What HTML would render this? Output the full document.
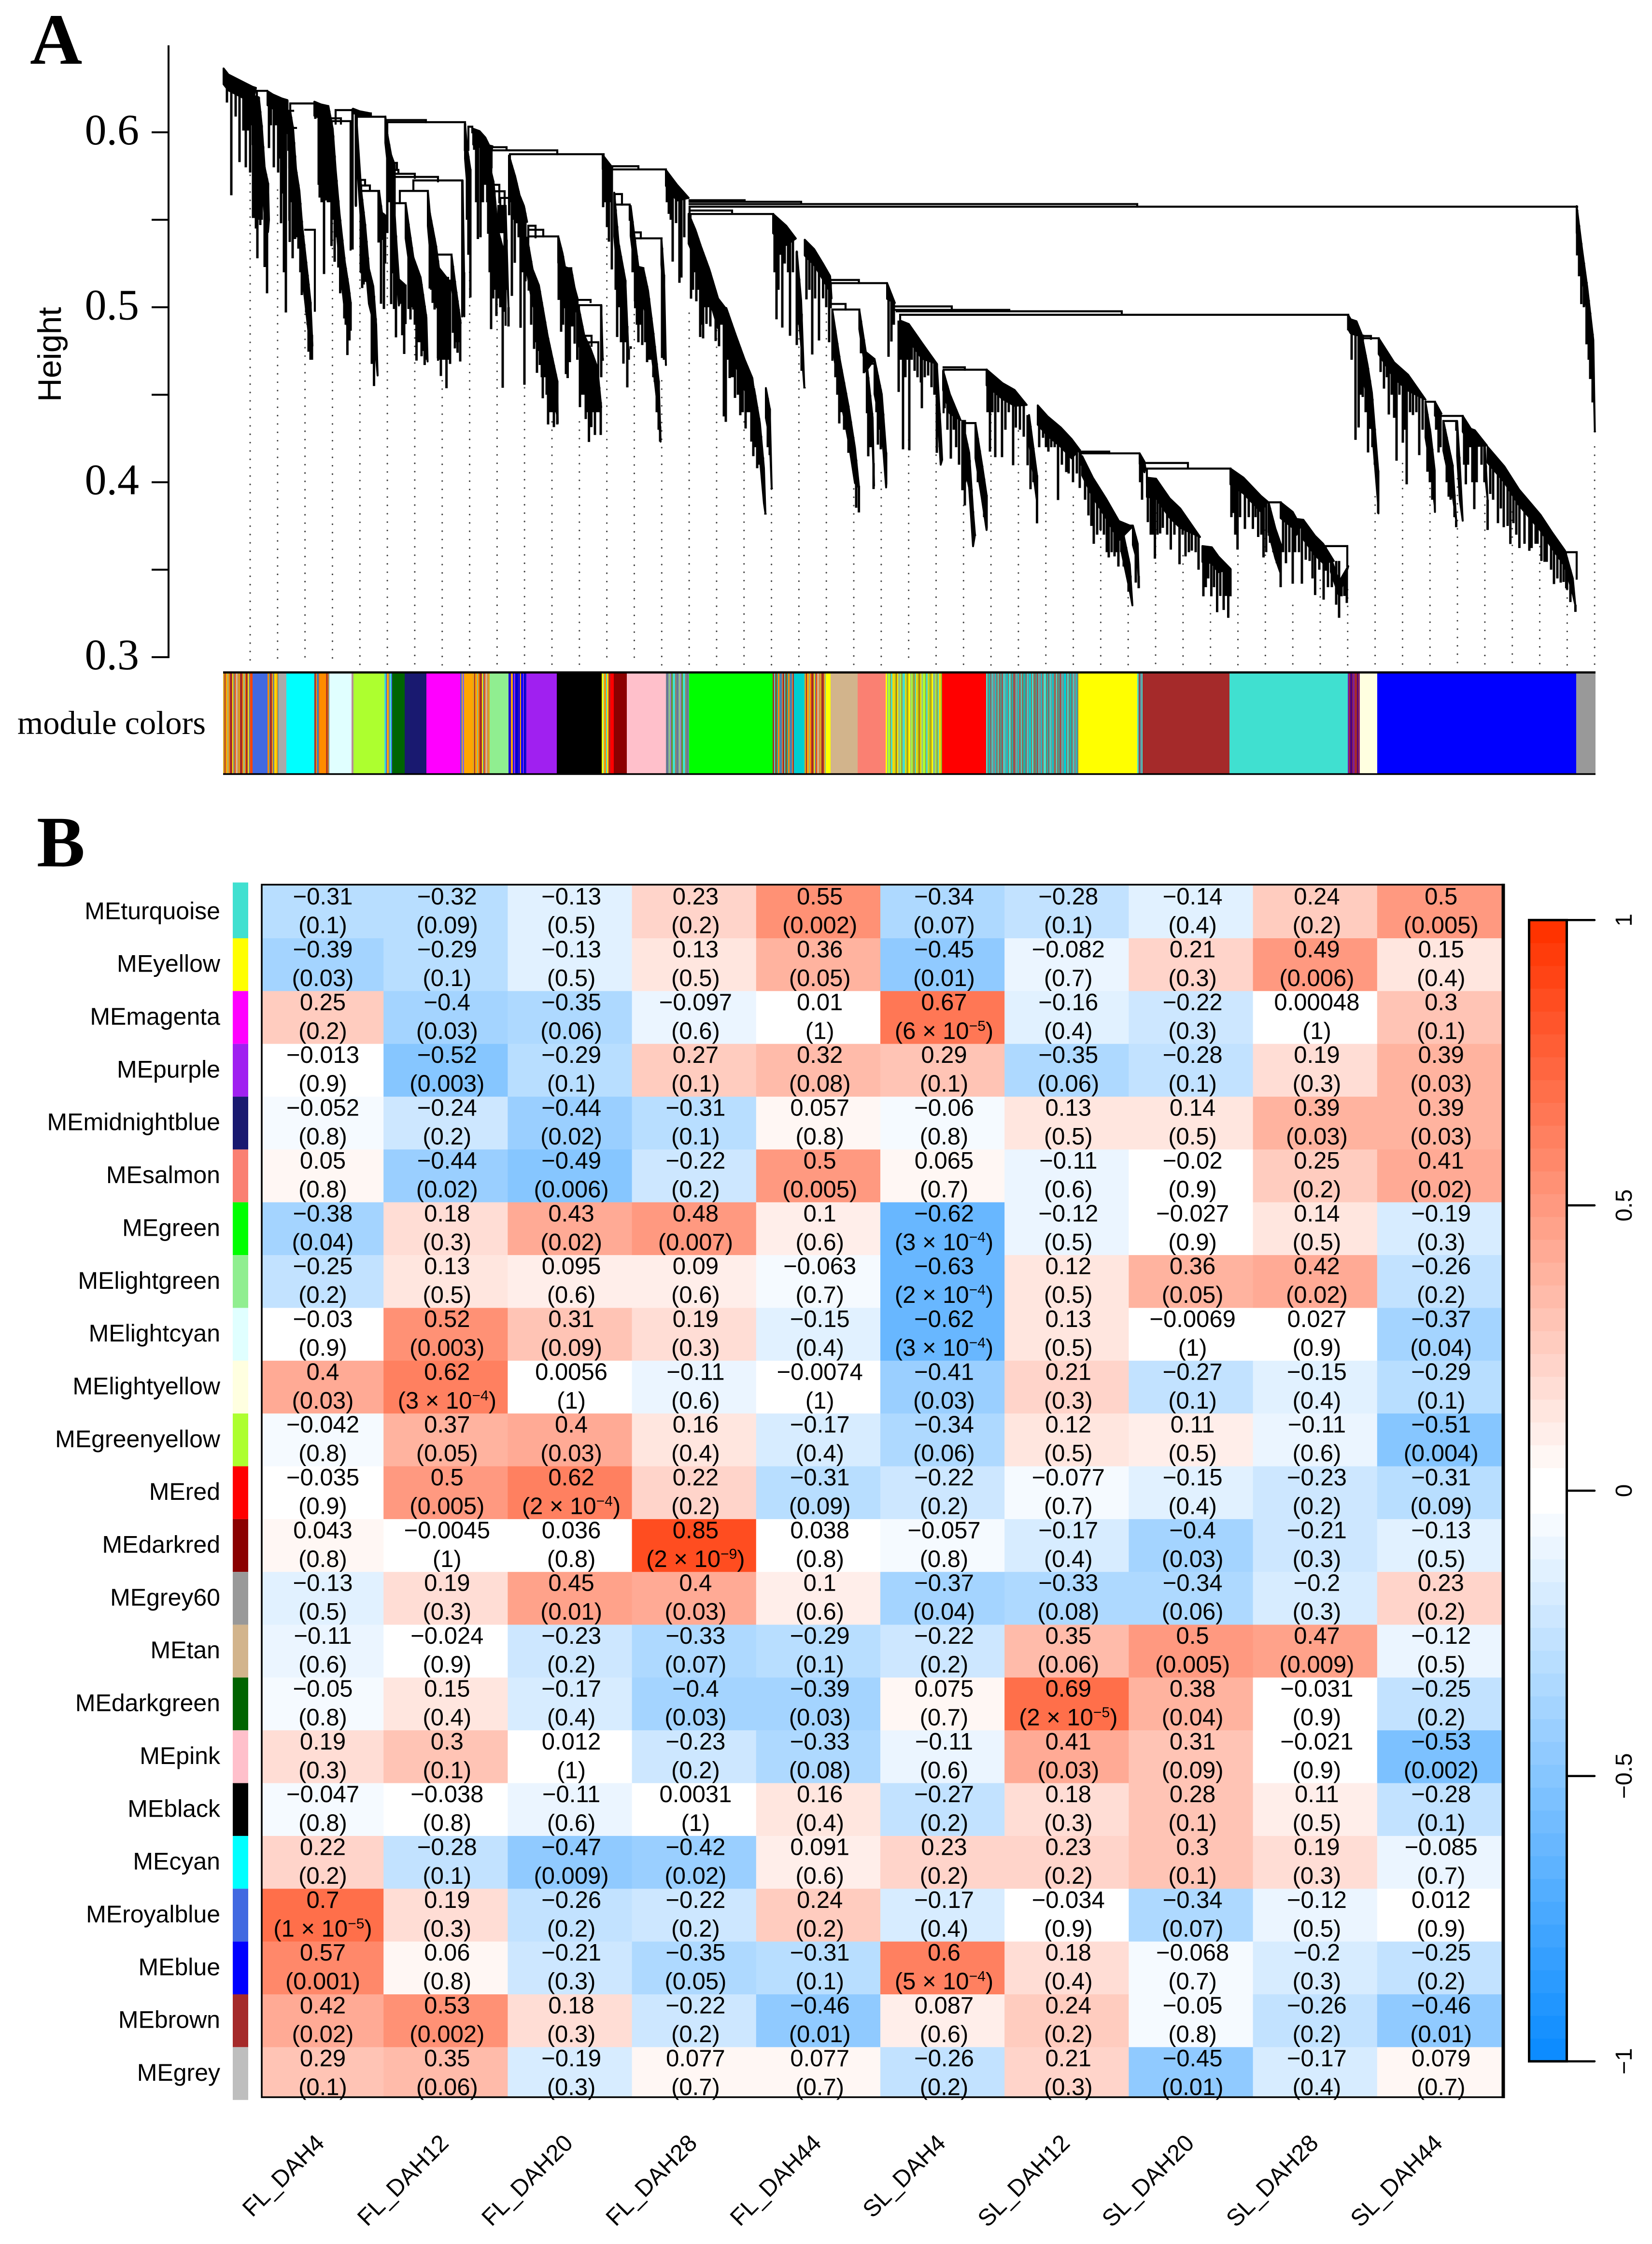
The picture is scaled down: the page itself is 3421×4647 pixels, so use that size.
<!DOCTYPE html>
<html lang="en">
<head>
<meta charset="utf-8">
<title>Module dendrogram and module-trait heatmap</title>
<style>
html,body{margin:0;padding:0;background:#fff;}
svg{display:block;}
text{fill:#000;}
.sans{font-family:"Liberation Sans",sans-serif;}
.serif{font-family:"Liberation Serif",serif;}
</style>
</head>
<body>
<svg id="figure" xmlns="http://www.w3.org/2000/svg" width="3421" height="4647" viewBox="0 0 3421 4647">
<rect x="0" y="0" width="3421" height="4647" fill="#fff"/>
<text class="serif" x="62" y="132" font-size="150" font-weight="bold">A</text>
<text class="serif" x="76" y="1794" font-size="150" font-weight="bold">B</text>
<text class="sans" x="0" y="0" font-size="68" text-anchor="middle" transform="translate(126 734) rotate(-90)">Height</text>
<text class="serif" x="36" y="1520" font-size="68.5">module colors</text>
<g id="layer-guides"></g>
<g id="layer-dendro"></g>
<g id="layer-yaxis"></g>
<g id="layer-strip"></g>
<g id="layer-rowstrip"></g>
<g id="layer-rowlabels"></g>
<g id="layer-cells"></g>
<g id="layer-frame"></g>
<g id="layer-celltext"></g>
<g id="layer-collabels"></g>
<g id="layer-legend"></g>
</svg>
<script>
/* ---------- Panel B data ---------- */
const rowNames = ['MEturquoise','MEyellow','MEmagenta','MEpurple','MEmidnightblue','MEsalmon','MEgreen','MElightgreen','MElightcyan','MElightyellow','MEgreenyellow','MEred','MEdarkred','MEgrey60','MEtan','MEdarkgreen','MEpink','MEblack','MEcyan','MEroyalblue','MEblue','MEbrown','MEgrey'];
const rowColors = ['#40E0D0','#FFFF00','#FF00FF','#A020F0','#191970','#FA8072','#00FF00','#90EE90','#E0FFFF','#FFFFE0','#ADFF2F','#FF0000','#8B0000','#999999','#D2B48C','#006400','#FFC0CB','#000000','#00FFFF','#4169E1','#0000FF','#A52A2A','#BEBEBE'];
const colNames = ['FL_DAH4','FL_DAH12','FL_DAH20','FL_DAH28','FL_DAH44','SL_DAH4','SL_DAH12','SL_DAH20','SL_DAH28','SL_DAH44'];
const correlations = [
[-0.31,-0.32,-0.13,0.23,0.55,-0.34,-0.28,-0.14,0.24,0.5],
[-0.39,-0.29,-0.13,0.13,0.36,-0.45,-0.082,0.21,0.49,0.15],
[0.25,-0.4,-0.35,-0.097,0.01,0.67,-0.16,-0.22,0.00048,0.3],
[-0.013,-0.52,-0.29,0.27,0.32,0.29,-0.35,-0.28,0.19,0.39],
[-0.052,-0.24,-0.44,-0.31,0.057,-0.06,0.13,0.14,0.39,0.39],
[0.05,-0.44,-0.49,-0.22,0.5,0.065,-0.11,-0.02,0.25,0.41],
[-0.38,0.18,0.43,0.48,0.1,-0.62,-0.12,-0.027,0.14,-0.19],
[-0.25,0.13,0.095,0.09,-0.063,-0.63,0.12,0.36,0.42,-0.26],
[-0.03,0.52,0.31,0.19,-0.15,-0.62,0.13,-0.0069,0.027,-0.37],
[0.4,0.62,0.0056,-0.11,-0.0074,-0.41,0.21,-0.27,-0.15,-0.29],
[-0.042,0.37,0.4,0.16,-0.17,-0.34,0.12,0.11,-0.11,-0.51],
[-0.035,0.5,0.62,0.22,-0.31,-0.22,-0.077,-0.15,-0.23,-0.31],
[0.043,-0.0045,0.036,0.85,0.038,-0.057,-0.17,-0.4,-0.21,-0.13],
[-0.13,0.19,0.45,0.4,0.1,-0.37,-0.33,-0.34,-0.2,0.23],
[-0.11,-0.024,-0.23,-0.33,-0.29,-0.22,0.35,0.5,0.47,-0.12],
[-0.05,0.15,-0.17,-0.4,-0.39,0.075,0.69,0.38,-0.031,-0.25],
[0.19,0.3,0.012,-0.23,-0.33,-0.11,0.41,0.31,-0.021,-0.53],
[-0.047,-0.038,-0.11,0.0031,0.16,-0.27,0.18,0.28,0.11,-0.28],
[0.22,-0.28,-0.47,-0.42,0.091,0.23,0.23,0.3,0.19,-0.085],
[0.7,0.19,-0.26,-0.22,0.24,-0.17,-0.034,-0.34,-0.12,0.012],
[0.57,0.06,-0.21,-0.35,-0.31,0.6,0.18,-0.068,-0.2,-0.25],
[0.42,0.53,0.18,-0.22,-0.46,0.087,0.24,-0.05,-0.26,-0.46],
[0.29,0.35,-0.19,0.077,0.077,-0.26,0.21,-0.45,-0.17,0.079]
];
const pValues = [
[0.1,0.09,0.5,0.2,0.002,0.07,0.1,0.4,0.2,0.005],
[0.03,0.1,0.5,0.5,0.05,0.01,0.7,0.3,0.006,0.4],
[0.2,0.03,0.06,0.6,1,6e-5,0.4,0.3,1,0.1],
[0.9,0.003,0.1,0.1,0.08,0.1,0.06,0.1,0.3,0.03],
[0.8,0.2,0.02,0.1,0.8,0.8,0.5,0.5,0.03,0.03],
[0.8,0.02,0.006,0.2,0.005,0.7,0.6,0.9,0.2,0.02],
[0.04,0.3,0.02,0.007,0.6,3e-4,0.5,0.9,0.5,0.3],
[0.2,0.5,0.6,0.6,0.7,2e-4,0.5,0.05,0.02,0.2],
[0.9,0.003,0.09,0.3,0.4,3e-4,0.5,1,0.9,0.04],
[0.03,3e-4,1,0.6,1,0.03,0.3,0.1,0.4,0.1],
[0.8,0.05,0.03,0.4,0.4,0.06,0.5,0.5,0.6,0.004],
[0.9,0.005,2e-4,0.2,0.09,0.2,0.7,0.4,0.2,0.09],
[0.8,1,0.8,2e-9,0.8,0.8,0.4,0.03,0.3,0.5],
[0.5,0.3,0.01,0.03,0.6,0.04,0.08,0.06,0.3,0.2],
[0.6,0.9,0.2,0.07,0.1,0.2,0.06,0.005,0.009,0.5],
[0.8,0.4,0.4,0.03,0.03,0.7,2e-5,0.04,0.9,0.2],
[0.3,0.1,1,0.2,0.08,0.6,0.03,0.09,0.9,0.002],
[0.8,0.8,0.6,1,0.4,0.2,0.3,0.1,0.5,0.1],
[0.2,0.1,0.009,0.02,0.6,0.2,0.2,0.1,0.3,0.7],
[1e-5,0.3,0.2,0.2,0.2,0.4,0.9,0.07,0.5,0.9],
[0.001,0.8,0.3,0.05,0.1,5e-4,0.4,0.7,0.3,0.2],
[0.02,0.002,0.3,0.2,0.01,0.6,0.2,0.8,0.2,0.01],
[0.1,0.06,0.3,0.7,0.7,0.2,0.3,0.01,0.4,0.7]
];
const legendTicks = [1,0.5,0,-0.5,-1];
const legendBins = 50;

/* ---------- Panel A data ---------- */
const heightTicks = [0.3,0.35,0.4,0.45,0.5,0.55,0.6];
const heightTickLabels = ['0.3','','0.4','','0.5','','0.6'];
const leafCount = 2842;
/* Module strip: end leaf rank and module colour of each consecutive run */
const moduleEnds = [61,92,115,131,189,199,213.5,220,266,270,334,350,376,421,491,499,517,552,591,628,691,784,802,809,836,917,965,1138,1182,1204,1248,1258,1314,1372,1489,1580,1771,1893,1907,2084,2329,2354,2390,2802,2842];
const moduleColors = ['mix1','#4169E1','mix2','#A9A9A9','#00FFFF','mix3','#FF8C00','mix3','#E0FFFF','mix4','#ADFF2F','mix5','#006400','#191970','#FF00FF','mix6','#FFA500','mix1','#90EE90','mix7','#A020F0','#000000','mix8','#FF0000','#8B0000','#FFC0CB','mix9','#00FF00','mix10','#00CED1','mix1','#FFFF00','#D2B48C','#FA8072','mix11','#FF0000','mix12','#FFFF00','mix13','#A52A2A','#40E0D0','mix14','#FFFFE0','#0000FF','#999999'];
const mix1 = ['#DAA520','#A52A2A','#FFA500','#8FBC8F','#FF8C00','#A52A2A','#FFFF00','#808080','#FF4500','#D2B48C','#CD853F'];
const mix2 = ['#FF8C00','#5F9EA0','#A52A2A','#FFA500','#708090','#FFD700'];
const mix3 = ['#A52A2A','#FF8C00','#4682B4','#FF4500'];
const mix4 = ['#BC8F8F','#9E9E9E'];
const mix5 = ['#40E0D0','#4169E1','#FFA500','#708090'];
const mix6 = ['#4169E1','#FFA500','#7B68EE','#FFD700'];
const mix7 = ['#1E10D0','#2A0AC8','#FFA500','#0000FF','#8A2BE2','#0000CD'];
const mix8 = ['#FFFF00','#90EE90','#FF8C00','#40E0D0','#FFD700','#A52A2A'];
const mix9 = ['#708090','#5F6EA0','#8FBC8F','#9370DB','#6B8E23','#40E0D0','#A0785A'];
const mix10 = ['#A52A2A','#40E0D0','#8B5A2B','#20B2AA','#FF8C00','#4682B4','#CD853F'];
const mix11 = ['#FFFF00','#8FBC8F','#ADFF2F','#A0A040','#40E0D0','#FFD700','#9ACD32','#B8860B'];
const mix12 = ['#40E0D0','#8B6F5A','#20B2AA','#A0524D','#48C9C0','#7B8E8E','#00CED1','#9A6A5A'];
const mix13 = ['#40E0D0','#A52A2A','#708090'];
const mix14 = ['#7B1FA2','#A52A2A','#4B0082','#8B2252'];
const modulePalettes = {mix1,mix2,mix3,mix4,mix5,mix6,mix7,mix8,mix9,mix10,mix11,mix12,mix13,mix14};

/* Guide lines: hanging height of each of the 50 evenly spaced guides */
const guideHeights = [0.585,0.567,0.496,0.567,0.549,0.573,0.492,0.458,0.520,0.535,0.5065,0.4345,0.4345,0.539,0.4958,0.458,0.4966,0.4867,0.4345,0.396,0.4867,0.5011,0.3962,0.4055,0.4242,0.4489,0.3867,0.4436,0.4293,0.411,0.3915,0.3772,0.334,0.3824,0.358,0.3296,0.3817,0.3726,0.3296,0.344,0.3386,0.3917,0.4107,0.4012,0.402,0.3917,0.383,0.3632,0.3386,0.4202];

/* Tree merges: left leaf, right leaf, merge height, left-drop height, right-drop height */
const merges = [
[70,91,.6237,.6205,null],[139,189,.6165,.612,null],[135,145,.6123,.59,null],[137,151,.6025,.58,null],[137,143,.5975,.55,.57],[140,146,.590,.57,null],[170,190,.5443,null,.498],
[223,244,.608,.60,.605],[225,264,.6064,.58,.533],[233,269,.6127,.605,null],[270,306,.6108,null,.6095],[275,306,.6098,.558,.6090],[277,336,.6089,.60,null],[286,323,.5665,.52,null],[286,304,.5696,.56,.5665],[285,294,.5728,.56,.5696],
[340,420,.6070,null,.6058],[340,501,.6058,.599,.60],[352,445,.5745,.52,.572],[352,397,.5763,null,.574],[352,363,.5785,null,.5763],[352,360,.5825,null,.5785],[394,495,.5725,.5665,.4948],[366,424,.5665,.5595,.5665],[354,378,.5595,.54,.5595],[443,473,.5301,.50,.53],[445,466,.5168,.47,.5158],[443,451,.5202,null,null],[508,516,.6032,.59,.60],
[551,587,.5915,null,.5905],[556,592,.5897,.58,null],[592,692,.5897,null,.5875],[594,788,.5875,.58,.587],[560,572,.5700,.56,.56],[562,583,.5663,.56,.55],[574,592,.5625,.55,.56],[570,585,.5579,.53,.49],[617,623,.5572,.55,.55],
[632,694,.5405,.52,.5405],[632,663,.5443,.54,.5405],[632,647,.5466,.54,.54],[708,721,.5223,.50,.5216],[734,761,.5042,.48,.503],[737,783,.5012,.48,.5012],[757,777,.480,.45,.46],[750,763,.4837,.47,.478],
[805,860,.5806,null,.5792],[805,917,.5788,.55,.5784],[811,842,.5587,.54,.55],[811,826,.5647,.55,.5587],[853,908,.5394,.50,.5394],[850,865,.5428,.53,.5394],
[966,1080,.5612,null,.5605],[966,1197,.5603,null,.5596],[966,1893,.559,null,.5578],[966,2804,.5575,.55,.5575],[967,1054,.5553,null,.5545],[968,1139,.5533,.54,.5533],
[1257,1316.6,.5156,null,.5138],[1258.5,1374.6,.5138,.50,.5138],[1261.6,1317.5,.4987,.47,.4987],[1261,1289,.5019,null,.4987],[1333,1349,.4677,.44,.4677],
[1391,1509,.5005,null,.4995],[1391,1628,.4985,null,.4978],[1395,1861,.4977,null,.4965],[1402,2330,.4957,.49,.4955],[1492,1581,.4643,.44,.4643],[1492,1536,.4657,null,.4643],[1532,1558,.4338,.43,.4338],
[1861,1883,.3752,.37,.3752],[1773,1835,.4175,null,.4165],[1776,1897,.4165,.41,.4165],[1910,1998,.411,null,.4082],[1913,2086,.4078,.40,.4078],[2165.5,2190,.3885,.37,.3885],[2283.5,2328,.3635,.35,.352],
[2358,2377,.4836,null,.482],[2358,2393,.4823,.47,.4823],[2490,2509.5,.446,.44,.446],[2525,2567,.4379,null,.4379],[2527,2553.5,.435,.43,.43],[2781,2803,.36,.34,.3449]
];

/* Dense clades: upper envelope as leaf,height pairs */
const cladeEnvelopes = [
[1,.6365,11,.633,38,.6292,61,.626,68,.6254],
[61,.621,74,.620,80,.604,86,.580,93,.571,95,.55],
[92,.6235,103,.6216,122,.6193,133,.6184],
[139,.612,145,.602,151,.579,158,.5665,164,.546,176,.516,181,.503,185,.478],
[189,.6175,202,.616,218,.615],
[218,.615,227,.602,233,.579,241,.5538,252,.526,260,.512,264,.503],
[269,.6135,283,.612,306,.6108],
[277,.604,283,.579,286,.5665,294,.5475,302,.522,311,.512,317,.490,320,.461],
[323,.5665,329,.554,334,.553],
[336,.609,340,.599,348,.587,355,.5817],
[354,.5595,358,.541,364,.516,376,.513],
[378,.5595,386,.5437,394,.5285,409,.517,421,.494,423.5,.469],
[424,.5665,428,.554,441,.535,447,.5225,466,.5158],
[473,.530,482,.5107,492,.491],
[496,.5725,499,.52,499.5,.4948],
[501,.605,505,.5917,512,.579],
[518,.602,531,.6007,543,.597,551,.5925,558,.592],
[547,.5867,560,.5716,569,.5443,578,.5352],
[573,.5579,585,.5579,591,.50],
[592,.5867,605,.5746,614,.564,623,.5579,629.5,.5488],
[629.5,.5398,641,.5216,654,.5125,672,.4837,692,.458,693,.4338],
[694,.5405,703,.5307,708,.523,721,.5216,728,.511,734,.505],
[737,.4989,748,.4838,761,.4762,775,.4656,783,.4429],
[783,.5012,786,.4709],
[786,.587,806,.5799],
[810,.5655,819,.5367,833,.5155,839,.4762],
[844,.5579,855,.5337,860,.5231,870.6,.5224],
[870,.5224,880,.5095,891,.4852,902,.458,906,.4232],
[907.6,.5394,913,.5186,917,.467],
[917,.5784,940,.570,964,.5625],
[964,.5534,978,.5443,989,.5352,1007,.5216,1025,.505,1040,.4996],
[1042,.4996,1060,.4853,1080,.4701,1096,.4595,1098,.455],
[1099.6,.4535,1111.6,.4338,1120,.408,1123,.3823],
[1124,.4538,1132,.4421,1136,.3967],
[1139,.5533,1166,.5466,1186,.5393],
[1188,.5319,1197,.5038,1203.6,.4543],
[1204.5,.5386,1224,.5332,1241.6,.5252,1257,.5178,1260,.5051],
[1261.6,.4985,1277,.4703,1295,.4436,1308.5,.4195,1317,.3968],
[1317.5,.4985,1331,.4744,1349,.4704],
[1333,.4677,1345,.4369,1348,.398],
[1349,.4704,1364,.4503,1373,.417,1373.5,.40],
[1375,.5138,1391,.5025],
[1402,.4924,1420,.4904,1447,.4797,1478,.4677],
[1478,.4677,1486,.43,1489,.4128],
[1491,.4637,1505,.4503,1527,.4356],
[1532,.4336,1545,.4168,1553,.3834,1557,.37],
[1558,.4338,1571.6,.4101,1581,.3927,1581.5,.3741],
[1581,.4644,1614,.4566,1639,.4527,1664,.4442],
[1669,.4384,1685.5,.4039,1686,.385],
[1687,.4439,1707,.4377,1735,.4312,1757,.4247,1773,.4188],
[1779,.4149,1801,.4026,1828,.3908,1855,.3778,1883,.3746],
[1861,.3746,1877.5,.353,1883,.3296],
[1884,.3752,1894,.3648,1896.7,.34],
[1898,.4165,1908,.4117,1910,.4078],
[1913,.4026,1932,.402,1960,.3908,1982,.385,2023,.3687],
[2028,.3635,2047.5,.3628,2061,.3576,2086,.3505],
[2086,.4078,2113,.4026,2149,.3922,2163,.3889],
[2165,.3885,2179,.3736,2190,.3648,2190.5,.342],
[2190,.3885,2215,.383,2223,.379,2237,.3785],
[2237,.3785,2261,.3694,2278,.3648,2300,.355],
[2294,.3568,2311,.343,2330,.352],
[2330,.4955,2335,.4931,2347,.492,2358,.4844],
[2360,.4812,2370,.467,2379,.4511,2392,.4067,2392.5,.3822],
[2393,.4823,2425,.4685,2454,.4614,2490,.4472],
[2490,.4456,2500,.4289,2509,.4067,2509.5,.383],
[2509.5,.446,2523,.4392],
[2527,.435,2546,.4099,2553.5,.3782],
[2555.5,.435,2561,.41,2567,.378],
[2567,.4379,2584,.4305,2592,.4297,2617,.421],
[2613,.4203,2618.6,.39],
[2618.6,.4202,2653,.4091,2684,.3957,2728,.3814,2752.6,.3711,2779,.3608,2795,.345,2800,.33],
[2803,.5578,2814,.5335,2825,.5113,2837.5,.4812,2840.6,.429]
];
/* Dense clades: thickness of the merged branch mass, in height units */
const cladeDepths = [.009,.028,.008,.028,.008,.028,.002,.02,.015,.015,.015,.02,.02,.017,.008,.02,.009,.02,.015,.009,.02,.015,.02,.015,.008,.025,.017,.02,.015,.009,.017,.017,.02,.017,.011,.025,.009,.02,.011,.015,.02,.009,.009,.02,.011,.02,.02,.009,.015,.011,.011,.015,.011,.006,.011,.009,.009,.017,.009,.011,.008,.008,.02,.009,.02,.008,.017,.02,.009,.015,.009,.015];
/* Dense clades: leaves, as leaf,height pairs for the tip of each hanging branch */
const cladeTips = [
[8,.617,17,.564,26,.609,34,.583,42,.601,47,.580,51,.601,56,.577,60,.604],
[62,.551,65,.551,68,.545,71,.528,74,.55,77,.547,80,.55,83,.563,86,.523,89,.55,91,.508,93,.551,95,.55],
[95,.591,99,.604,105,.580,110,.604,114,.577,118,.585,120,.548,122,.57,123,.565,126,.520,128,.54,130,.497,133,.599],
[138,.5373,141,.56,144,.528,147,.55,149,.539,152,.54,156,.5335,160,.52,163,.507,166,.51,168,.516,172,.497,175,.49,177,.4746,181,.47,184,.470],
[191,.6077,198,.570,200,.5627,204,.560,209,.519,214,.561,217,.56],
[216,.588,220,.56,224.5,.535,228,.55,231,.526,235,.54,238.7,.5227,242.5,.508,247,.51,251,.4936,254,.49,257.4,.4727,261.6,.481,264,.4866],
[268,.533,275,.558],
[285,.52,288,.511,291,.513,294,.5145,297,.515,300,.516,304,.51,308,.4676,312.5,.455,316,.47,320,.461],
[322,.537,327,.502,333,.499,335.5,.525],
[338,.59,340,.5424,344,.56,348,.5018,352,.55,355,.54],
[358,.4828,354,.499,366,.502,371,.484,375,.4733,377.6,.4904],
[384,.499,388,.493,391,.50,394,.4987,397,.49,400.5,.4695,404,.48,408,.48,411,.472,414,.475,417.4,.467,420,.47,423.5,.469],
[428,.5107,431,.51,434,.5025,438,.4987,441,.50,445,.4708,448,.47,451,.4607,455,.47,459,.47,462.6,.4537,466,.47,470,.4676],
[476,.4854,480,.4765,483,.48,485.5,.474,488,.48,491,.469],
[499,.4948],
[501,.5893,505,.55,508,.530,512,.5056],
[520,.59,524,.56,527.6,.539,533,.540,538,.56,543,.57,547,.56,550.6,.5424,555,.488],
[549,.542,552,.52,555,.4875,559.4,.505,562,.51,566,.495,570,.505,574,.50,579,.454],
[583,.4974,587,.51,591,.489],
[592.5,.5526,595,.56,598,.5065,601,.55,604,.5254,608,.548,612,.54,616,.4883,620,.52,624,.4557,626,.5148],
[633,.5095,638,.49,644,.4762,648,.48,650,.4625,653,.475,656,.467,660,.46,662,.448,667,.46,670,.45,673,.433,676,.44,678.6,.440,682,.44,685,.4315,689,.44,692,.433],
[695,.5042,700,.486,704,.49,710,.4618,713.5,.4595,718,.4686,723,.489,728,.4792],
[733.5,.470,739,.4429,744,.45,748,.45,751,.4361,755,.44,757.6,.423,762.5,.4315,766,.44,770,.427,775,.44,779,.44,782,.427],
[783,.46,786,.4694],
[787,.5572,791,.56,795,.5458,799,.5375,802,.56,805,.5216],
[813,.51,816,.483,820,.50,824,.480,829,.4678,833,.48,837,.4542,840,.47,844,.4777],
[848,.52,853,.5034,857,.49,860,.480,864,.49,868,.4784],
[874,.48,878,.4686,882,.47,887,.47,891,.46,894,.4573,898,.44,902,.43,905,.4232],
[909,.471,913,.47,917,.4671],
[919,.56,923,.5534,927,.55,931,.5261,938,.5481,945,.514,949,.517,955,.54],
[969,.5049,973,.51,977,.52,980,.5034,984,.51,988,.483,991,.49,994,.4822,998,.50,1001,.4905,1005,.50,1009,.489,1014,.50,1020,.4807,1027,.4777,1032,.49,1037,.4376,1041,.4345],
[1046,.47,1049,.4595,1053,.46,1057,.46,1060,.4482,1066,.45,1071,.4383,1076,.44,1082,.4307,1086,.44,1090,.44,1094,.4232,1098,.4149],
[1102,.42,1106,.408,1110,.41,1114,.41,1118,.41,1123,.3815],
[1128,.42,1132,.4155,1136,.396],
[1142,.52,1146,.4931,1150,.51,1154,.53,1158,.4884,1163,.525,1170,.52,1174,.4837,1180,.52],
[1188,.4784,1193,.49,1198,.4637,1204,.4536],
[1208,.5045,1214,.51,1220,.473,1226,.505,1234,.481,1242.5,.5051,1249,.50,1255,.48],
[1268,.46,1272,.45,1276,.4336,1281,.44,1286,.43,1290,.43,1295,.4168,1300,.42,1305,.41,1311,.3854,1316.6,.3827],
[1321,.4737,1327,.4623],
[1336,.4148,1340,.42,1344,.42,1347,.3961],
[1353,.44,1356,.4215,1360,.43,1362,.4188,1367,.42,1373,.3988],
[1378,.4717,1384,.4804,1389,.49],
[1399,.4516,1404,.47,1408,.4188,1413,.46,1418,.47,1421,.4182,1426,.47,1432,.4637,1438,.46,1445,.457,1447,.4423,1453,.46,1460,.461,1467,.4543,1473,.45],
[1478,.4168,1484,.42,1489,.4128],
[1494,.4423,1500,.43,1507,.4135,1513,.43,1518,.42,1524,.41,1531,.3954,1536,.3867],
[1537,.40,1541,.4008,1546,.3981,1550,.39,1553,.3807,1557,.3694],
[1563,.40,1567,.40,1572,.39,1576,.38,1581,.3741],
[1583,.44,1588,.4175,1593,.44,1599,.4143,1605,.44,1613,.4143,1620,.43,1627,.44,1636,.4097,1641.6,.4312,1650,.43,1658,.426],
[1666,.4097,1672,.396,1678,.40,1685.5,.3765],
[1690,.42,1698,.4254,1704,.42,1709,.4175,1715,.42,1722,.42,1729,.3898,1737,.41,1746,.4058,1751,.405,1760,.40,1768,.405,1774,.3967],
[1785,.39,1792,.381,1798,.375,1803,.3648,1810,.37,1817,.3726,1824,.37,1830,.36,1834,.357,1840,.36,1846,.3576,1850,.36,1854,.3518,1860,.36],
[1865,.3518,1870,.35,1875,.3374,1879,.34,1883,.3296],
[1890,.3426,1896,.3394],
[1899,.40,1903,.39],
[1915,.3772,1921,.37,1925,.37,1929.6,.3563,1935,.37,1940.5,.3707,1946,.3739,1955,.37,1962.5,.3615,1970,.37,1980.6,.3531,1987,.37,1993,.3576,2000,.36,2006,.3609,2014,.36,2020,.35],
[2030,.3348,2035,.34,2040,.345,2046.4,.3348,2052,.34,2058.5,.3257,2065,.335,2072,.327,2077,.335,2081.5,.3225,2086,.3348],
[2088,.38,2091,.3824,2096,.37,2100.7,.3615,2106,.38,2116,.3733,2124,.38,2132.5,.3733,2138,.38,2143.5,.3687,2150,.37],
[2154.5,.357,2160,.36,2168,.3654,2175,.36,2182,.3537,2186,.36,2190,.340],
[2195,.36,2201,.3537,2208,.36,2215,.342,2220,.36,2228,.36,2234,.342],
[2242,.3557,2250,.355,2256,.345,2261.4,.3355,2270,.35,2279,.3329,2288,.34,2296,.34,2305,.33,2311,.3225],
[2316,.3348,2322,.335,2327,.331],
[2330,.4868,2337,.47,2345,.4242,2351.5,.4313,2356,.45,2360,.4487],
[2366,.44,2371,.417,2375,.4305,2380,.42,2385,.41,2392,.3822],
[2397,.463,2404,.4535,2410,.46,2414,.4387,2420,.45,2425,.4368,2430,.4123,2436,.45,2443,.4226,2448,.43,2451,.3988,2458,.44,2464,.4384,2471,.44,2477,.4155,2484,.43],
[2494,.406,2499,.40,2504,.39,2509.5,.383],
[2512,.43,2517,.417,2521,.42],
[2530.6,.413,2534,.40,2538,.3917,2542,.39,2546,.3909,2550,.38,2553.5,.3743],
[2560,.40,2567,.378],
[2570,.41,2573.5,.3988,2578,.41,2583,.42,2587,.40,2591,.3846,2596,.40,2606,.41,2612,.40],
[2615,.40,2618.6,.3727],
[2624,.3933,2630,.39,2640,.3766,2646,.385,2652,.3743,2660,.375,2665.7,.3647,2672,.3766,2678,.37,2684.4,.3624,2695,.3648,2705,.3608,2709.7,.3624,2718,.3648,2722,.3648,2730,.355,2736.5,.3545,2741,.3545,2750,.35,2756,.3418,2763,.345,2770,.3426,2776,.343,2783,.3386,2790,.3315,2800.4,.3259],
[2804,.5296,2808,.5177,2812.6,.5018,2818,.50,2823.5,.4788,2828,.47,2831,.459,2836,.4456,2840.6,.4286]
];

/* ---------- Axis functions ---------- */
const xLeaf = leaf => 462 + leaf * (2842 / leafCount);
const yHeight = h => 274 + (0.6 - h) * 3623;
const rowTop = i => 1833.65 + i * 109.35;
const rowH = 109.35;
const colLeft = j => 537 + j * 257.2;
const colCentre = j => 668.5 + j * 257.3;
const yLegend = v => 3087 - v * 1181.7;

const SVGNS = 'http://www.w3.org/2000/svg';
const mk = (tag, parent) => {
  const e = document.createElementNS(SVGNS, tag);
  parent.appendChild(e);
  return e;
};
const at = (e, o) => { for (const k in o) e.setAttribute(k, o[k]); return e; };
const $ = id => document.getElementById(id);

/* colour scale: 50-step blue-white-red */
function scaleColor(v) {
  let bin = Math.floor((v + 1) / 2 * legendBins);
  bin = Math.max(0, Math.min(legendBins - 1, bin));
  const half = legendBins / 2;
  let r, g, b;
  if (bin < half) {
    const f = bin / (half - 1);
    r = .05 + .95 * f; g = .55 + .45 * f; b = 1;
  } else {
    const f = (legendBins - 1 - bin) / (half - 1);
    r = 1; g = .2 + .8 * f; b = f;
  }
  return 'rgb(' + Math.round(r * 255) + ',' + Math.round(g * 255) + ',' + Math.round(b * 255) + ')';
}
const fmt = v => String(v).replace('-', '\u2212');

/* ---------- Height axis ---------- */
(function () {
  const g = $('layer-yaxis');
  const line = mk('line', g);
  
  
  at(line, {x1: 349, x2: 349, y1: yHeight(0.6497), y2: yHeight(0.3) + 2, stroke: '#000', 'stroke-width': 4});
  heightTicks.forEach((t, i) => {
    const tick = mk('line', g);
    
    
    at(tick, {x1: 314, x2: 349, y1: yHeight(t), y2: yHeight(t), stroke: '#000', 'stroke-width': 4});
    if (heightTickLabels[i]) {
      const lab = mk('text', g);
      
      
      at(lab, {x: 288, y: yHeight(t) + 25, 'text-anchor': 'end', 'font-size': 90, class: 'serif'});
      lab.textContent = heightTickLabels[i];
    }
  });
})();

/* ---------- Guides ---------- */
(function () {
  const g = $('layer-guides');
  guideHeights.forEach((h, i) => {
    const x = 518 + i * 56.82;
    const p = mk('line', g);
    
    
    at(p, {x1: x, x2: x, y1: yHeight(h), y2: 1377, stroke: '#444', 'stroke-width': 3.2, 'stroke-linecap': 'round', 'stroke-dasharray': '0.1 17.2'});
  });
})();

/* ---------- Dendrogram ---------- */
(function () {
  const g = $('layer-dendro');
  const envAt = (env, leaf) => {
    if (leaf <= env[0]) return env[1];
    for (let i = 2; i < env.length; i += 2) {
      if (leaf <= env[i]) {
        const t = (leaf - env[i - 2]) / ((env[i] - env[i - 2]) || 1);
        return env[i - 1] + t * (env[i + 1] - env[i - 1]);
      }
    }
    return env[env.length - 1];
  };
  merges.forEach(m => {
    let d = 'M' + xLeaf(m[0]) + ' ' + yHeight(m[2]) + 'H' + xLeaf(m[1]);
    if (m[3] !== null) d += 'M' + xLeaf(m[0]) + ' ' + yHeight(m[2]) + 'V' + yHeight(m[3]);
    if (m[4] !== null) d += 'M' + xLeaf(m[1]) + ' ' + yHeight(m[2]) + 'V' + yHeight(m[4]);
    const p = mk('path', g);
    
    
    at(p, {d: d, fill: 'none', stroke: '#000', 'stroke-width': 4.2, 'stroke-linecap': 'square'});
  });
  cladeEnvelopes.forEach((env, c) => {
    const depth = cladeDepths[c];
    const tips = cladeTips[c];
    let top = [], bot = [];
    for (let i = 0; i < env.length; i += 2) {
      top.push(xLeaf(env[i]) + ',' + yHeight(env[i + 1]));
      /* the mass tapers to nothing at the clade's last leaf */
      const thick = (i === env.length - 2) ? 0 : depth;
      bot.unshift(xLeaf(env[i]) + ',' + yHeight(env[i + 1] - thick));
    }
    const body = mk('polygon', g);
    
    
    at(body, {points: top.concat(bot).join(' '), fill: '#000', stroke: '#000', 'stroke-width': 4, 'stroke-linejoin': 'round'});
    let d = '';
    for (let i = 0; i < tips.length; i += 2) {
      d += 'M' + xLeaf(tips[i]) + ' ' + yHeight(envAt(env, tips[i])) + 'V' + yHeight(tips[i + 1]);
    }
    const hairs = mk('path', g);
    
    
    at(hairs, {d: d, fill: 'none', stroke: '#000', 'stroke-width': 5});
  });
})();

/* ---------- Module colour strip ---------- */
(function () {
  const g = $('layer-strip');
  let start = 0;
  const widths = [3, 2, 4, 2, 3, 5, 2];
  moduleEnds.forEach((end, i) => {
    const c = moduleColors[i];
    const pal = modulePalettes[c];
    if (!pal) {
      const r = mk('rect', g);
      
      
      at(r, {x: xLeaf(start), y: 1391, width: xLeaf(end) - xLeaf(start), height: 212, fill: c});
    } else {
      let x = start, k = 0;
      while (x < end) {
        const w = Math.min(widths[k % widths.length], end - x);
        const r = mk('rect', g);
        
        
        at(r, {x: xLeaf(x), y: 1391, width: w + 0.3, height: 212, fill: pal[k % pal.length]});
        x += w; k++;
      }
    }
    start = end;
  });
  [1392.5, 1603].forEach(y => {
    const l = mk('line', g);
    
    
    at(l, {x1: xLeaf(0), x2: xLeaf(leafCount), y1: y, y2: y, stroke: '#000', 'stroke-width': y < 1500 ? 4.5 : 3.5});
  });
})();

/* ---------- Heatmap ---------- */
(function () {
  const FRAME_L = 542, FRAME_R = 3112, FRAME_T = 1832, FRAME_B = 4343;
  const strip = $('layer-rowstrip'), labels = $('layer-rowlabels'), cells = $('layer-cells'), txt = $('layer-celltext'), cols = $('layer-collabels');
  rowNames.forEach((name, i) => {
    const top = i === 0 ? 1827.5 : rowTop(i);
    const bot = rowTop(i + 1);
    const s = mk('rect', strip);
    
    
    at(s, {x: 482, y: top, width: 32, height: bot - top, fill: rowColors[i]});
    const l = mk('text', labels);
    
    
    at(l, {x: 456, y: rowTop(i) + rowH / 2 + 15, 'text-anchor': 'end', 'font-size': 50, class: 'sans'});
    l.textContent = name;
    colNames.forEach((cn, j) => {
      const v = correlations[i][j], p = pValues[i][j];
      const x0 = Math.max(colLeft(j), FRAME_L), x1 = Math.min(colLeft(j + 1), FRAME_R);
      const y0 = Math.max(rowTop(i), FRAME_T), y1 = Math.min(rowTop(i + 1), FRAME_B);
      const r = mk('rect', cells);
      
      
      at(r, {x: x0, y: y0, width: x1 - x0 + 0.4, height: y1 - y0 + 0.4, fill: scaleColor(v)});
      const cx = colCentre(j);
      const t1 = mk('text', txt);
      
      
      at(t1, {x: cx, y: rowTop(i) + 39.5, 'text-anchor': 'middle', 'font-size': 49, class: 'sans'});
      t1.textContent = fmt(v);
      const t2 = mk('text', txt);
      
      
      at(t2, {x: cx, y: rowTop(i) + 99, 'text-anchor': 'middle', 'font-size': 49, class: 'sans'});
      if (p < 0.001) {
        const parts = p.toExponential().split('e');
        t2.appendChild(document.createTextNode('(' + parts[0] + ' \u00D7 10'));
        const sup = mk('tspan', t2);
        
        
        at(sup, {'font-size': 30, dy: -17});
        sup.textContent = fmt(parseInt(parts[1], 10));
        const close = mk('tspan', t2);
        
        
        at(close, {dy: 17});
        close.textContent = ')';
      } else {
        t2.textContent = '(' + p + ')';
      }
    });
  });
  colNames.forEach((cn, j) => {
    const t = mk('text', cols);
    
    
    at(t, {x: 0, y: 0, 'text-anchor': 'end', 'font-size': 49, class: 'sans', transform: 'translate(' + (colCentre(j) + 6) + ' 4441) rotate(-45)'});
    t.textContent = cn;
  });
  const fg = $('layer-frame');
  const frame = mk('path', fg);
  
  
  at(frame, {d: 'M542 1832H3112V4343H542Z', fill: 'none', stroke: '#000', 'stroke-width': 3.5});
  const right = mk('line', fg);
  
  
  at(right, {x1: 3113, x2: 3113, y1: 1830, y2: 4345, stroke: '#000', 'stroke-width': 7});
})();

/* ---------- Legend ---------- */
(function () {
  const g = $('layer-legend');
  const step = 2 / legendBins;
  for (let b = 0; b < legendBins; b++) {
    const lo = -1 + b * step;
    const r = mk('rect', g);
    
    
    at(r, {x: 3166, y: yLegend(lo + step), width: 79, height: yLegend(lo) - yLegend(lo + step) + 0.5, fill: scaleColor(lo + step / 2)});
  }
  const box = mk('rect', g);
  
  
  at(box, {x: 3166.5, y: yLegend(1), width: 78, height: yLegend(-1) - yLegend(1), fill: 'none', stroke: '#000', 'stroke-width': 5});
  legendTicks.forEach(v => {
    const y = yLegend(v);
    const t = mk('line', g);
    
    
    at(t, {x1: 3245, x2: 3302, y1: y, y2: y, stroke: '#000', 'stroke-width': 4.5, 'stroke-linecap': 'round'});
    const l = mk('text', g);
    
    
    at(l, {x: 0, y: 0, 'text-anchor': 'middle', 'font-size': 48, class: 'sans', transform: 'translate(3379 ' + y + ') rotate(-90)'});
    l.textContent = fmt(v);
  });
})();
</script>
</body>
</html>
